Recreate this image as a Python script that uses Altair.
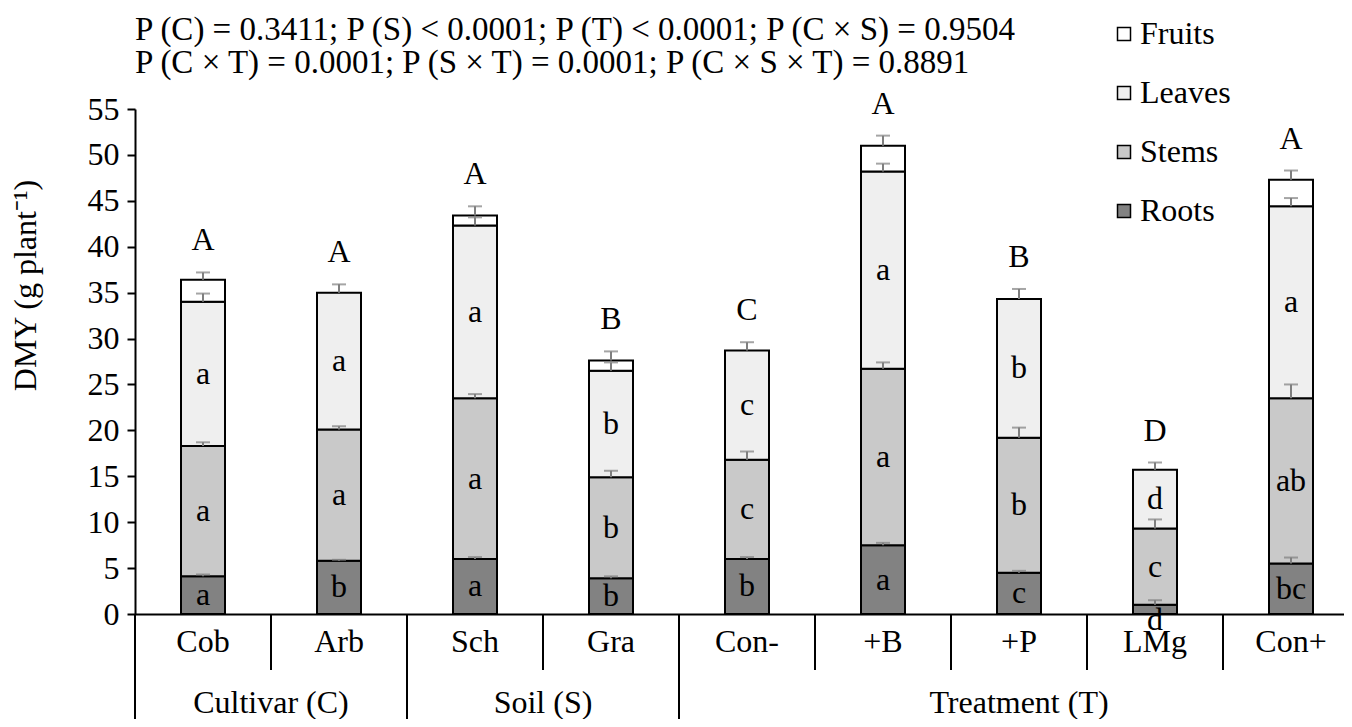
import altair as alt
import pandas as pd

FONT = "Liberation Serif"

categories = ["Cob", "Arb", "Sch", "Gra", "Con-", "+B", "+P", "LMg", "Con+"]

roots = [4.1, 5.8, 6.0, 3.9, 6.0, 7.5, 4.5, 1.0, 5.5]
stems = [14.2, 14.3, 17.5, 11.0, 10.8, 19.2, 14.7, 8.3, 18.0]
leaves = [15.7, 14.9, 18.8, 11.6, 11.9, 21.5, 15.1, 6.4, 20.9]
fruits = [2.4, 0.0, 1.1, 1.1, 0.0, 2.8, 0.0, 0.0, 2.9]

roots_err = [0.2, 0.1, 0.2, 0.2, 0.2, 0.25, 0.2, 0.5, 0.65]
stems_err = [0.4, 0.35, 0.45, 0.7, 0.9, 0.7, 1.1, 1.0, 1.5]
leaves_err = [0.9, 0.9, 0.9, 0.9, 0.9, 0.85, 1.1, 0.8, 0.9]
fruits_err = [0.8, 0.0, 1.0, 1.0, 0.0, 1.1, 0.0, 0.0, 1.0]

roots_letters = ["a", "b", "a", "b", "b", "a", "c", "d", "bc"]
stems_letters = ["a", "a", "a", "b", "c", "a", "b", "c", "ab"]
leaves_letters = ["a", "a", "a", "b", "c", "a", "b", "d", "a"]
total_letters = ["A", "A", "A", "B", "C", "A", "B", "D", "A"]

groups = ["Cultivar (C)", "Soil (S)", "Treatment (T)"]
group_sizes = [2, 2, 5]

title_lines = [
    "P (C) = 0.3411; P (S) < 0.0001; P (T) < 0.0001; P (C × S) = 0.9504",
    "P (C × T) = 0.0001; P (S × T) = 0.0001; P (C × S × T) = 0.8891",
]

parts = ["Roots", "Stems", "Leaves", "Fruits"]
values = {"Roots": roots, "Stems": stems, "Leaves": leaves, "Fruits": fruits}
errs = {"Roots": roots_err, "Stems": stems_err, "Leaves": leaves_err, "Fruits": fruits_err}
letters = {"Roots": roots_letters, "Stems": stems_letters, "Leaves": leaves_letters}

rows = []
for i, c in enumerate(categories):
    base = 0.0
    for p in parts:
        v = values[p][i]
        top = base + v
        rows.append(dict(cat=c, part=p, bottom=base, top=top, value=v,
                         err_top=top + errs[p][i],
                         letter=letters[p][i] if p in letters else "",
                         mid=(base + top) / 2))
        base = top
seg = pd.DataFrame(rows)
bars_df = seg[seg["value"] > 0]
err_df = seg[(seg["value"] > 0) & (seg["err_top"] > seg["top"])]
lab_df = seg[seg["letter"] != ""]
lab_in = lab_df[lab_df["value"] >= 2]
lab_out = lab_df[lab_df["value"] < 2]

tot_rows = []
for i, c in enumerate(categories):
    s = bars_df[bars_df["cat"] == c]
    tot_rows.append(dict(cat=c, y=float(s["err_top"].max()), letter=total_letters[i]))
tot_df = pd.DataFrame(tot_rows)

cat_df = pd.DataFrame({"cat": categories})
grp_rows = []
start = 0
for g, n in zip(groups, group_sizes):
    if n % 2 == 0:
        anchor, pos = categories[start + n // 2 - 1], 1
    else:
        anchor, pos = categories[start + n // 2], 0.5
    grp_rows.append(dict(group=g, first=categories[start], cat=anchor, pos=pos))
    start += n
grp_df = pd.DataFrame(grp_rows)
grp_line_df = pd.DataFrame({"cat": grp_df["first"]})
grp_even = grp_df[grp_df["pos"] == 1]
grp_odd = grp_df[grp_df["pos"] == 0.5]

W, H = 1224, 505

x_axis = alt.Axis(title=None, ticks=False, labelAngle=0, labelFontSize=32, labelFont=FONT,
                  labelColor="black", labelPadding=12, domainColor="black", domainWidth=2)
x_main = alt.X("cat:N", sort=categories,
               scale=alt.Scale(paddingInner=0, paddingOuter=0), axis=x_axis)


def xc(bp=None):
    if bp is None:
        return alt.X("cat:N", sort=categories)
    return alt.X("cat:N", sort=categories, bandPosition=bp)


y_axis = alt.Axis(values=list(range(0, 56, 5)), title="DMY (g plant⁻¹)", grid=False,
                  tickSize=8, tickWidth=2, tickColor="black", domainColor="black", domainWidth=2,
                  labelFontSize=32, labelFont=FONT, labelColor="black", labelPadding=8,
                  titleFontSize=32, titleFont=FONT, titleFontWeight="normal", titleColor="black",
                  titleX=-110, titleY=176, titleBaseline="middle")

fill_scale = alt.Scale(domain=["Fruits", "Leaves", "Stems", "Roots"],
                       range=["#ffffff", "#efefef", "#c9c9c9", "#828282"])

bars = alt.Chart(bars_df).mark_bar(width=44, stroke="black", strokeWidth=2).encode(
    x=x_main,
    y=alt.Y("bottom:Q", scale=alt.Scale(domain=[0, 55], nice=False), axis=y_axis),
    y2="top:Q",
    fill=alt.Fill("part:N", scale=fill_scale,
                  legend=alt.Legend(title=None, orient="none", legendX=973, legendY=-91,
                                    direction="vertical", labelFont=FONT, labelFontSize=32,
                                    labelColor="black", symbolType="square", symbolSize=169,
                                    symbolStrokeColor="black", symbolStrokeWidth=1.5,
                                    rowPadding=27, labelOffset=0, padding=0)),
)

err_line = alt.Chart(err_df).mark_rule(color="#7f7f7f", strokeWidth=2).encode(
    x=xc(), y="top:Q", y2="err_top:Q")
err_cap = alt.Chart(err_df).mark_tick(color="#7f7f7f", thickness=2, size=14).encode(
    x=xc(), y="err_top:Q")

seg_text = alt.Chart(lab_in).mark_text(font=FONT, fontSize=32, baseline="middle", color="black").encode(
    x=xc(), y="mid:Q", text="letter:N")
seg_text_out = alt.Chart(lab_out).mark_text(font=FONT, fontSize=32, baseline="top", color="black", dy=-9).encode(
    x=xc(), y="bottom:Q", text="letter:N")
tot_text = alt.Chart(tot_df).mark_text(font=FONT, fontSize=32, baseline="middle", color="black", dy=-32).encode(
    x=xc(), y="y:Q", text="letter:N")

sep = alt.Chart(cat_df).mark_rule(color="black", strokeWidth=2).encode(
    x=xc(0), y=alt.value(H), y2=alt.value(H + 56))
grp_line = alt.Chart(grp_line_df).mark_rule(color="black", strokeWidth=2).encode(
    x=xc(0), y=alt.value(H), y2=alt.value(H + 120))
grp_text_a = alt.Chart(grp_even).mark_text(font=FONT, fontSize=32, baseline="middle", color="black").encode(
    x=xc(1), y=alt.value(H + 89), text="group:N")
grp_text_b = alt.Chart(grp_odd).mark_text(font=FONT, fontSize=32, baseline="middle", color="black").encode(
    x=xc(0.5), y=alt.value(H + 89), text="group:N")

chart = alt.layer(
    bars, err_line, err_cap, seg_text, seg_text_out, tot_text,
    sep, grp_line, grp_text_a, grp_text_b,
).properties(
    width=W, height=H,
    padding={"left": 127, "top": 101, "right": -15, "bottom": 105},
    autosize=alt.AutoSizeParams(type="none"),
    title=alt.TitleParams(text=title_lines, anchor="start", frame="group", font=FONT,
                          fontSize=33, fontWeight="normal", color="black", lineHeight=33,
                          baseline="bottom", offset=-95),
).configure_view(stroke=None)

chart.save("out.html", embed_options={"renderer": "svg", "actions": False})
